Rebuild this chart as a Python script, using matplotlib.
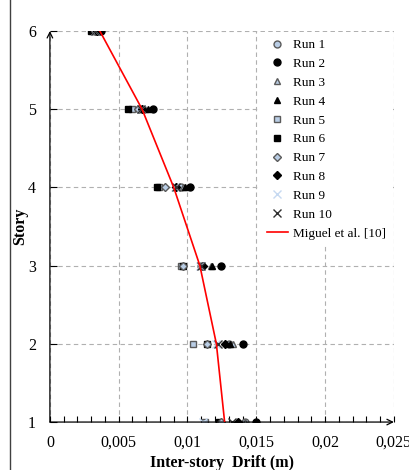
import matplotlib.pyplot as plt
from matplotlib.lines import Line2D
from matplotlib.ticker import FixedLocator, MultipleLocator, FuncFormatter

plt.rcParams['font.family'] = ['Liberation Serif', 'DejaVu Serif']

stories = [1, 2, 3, 4, 5, 6]

# inter-story drift (m) per run, story 1..6
run_drifts = {
    "Run 1": [0.0142, 0.0130, 0.0110, 0.0095, 0.0065, 0.0034],
    "Run 2": [0.0150, 0.0140, 0.0124, 0.0102, 0.0075, 0.0037],
    "Run 3": [0.0142, 0.0133, 0.0117, 0.0097, 0.0069, 0.0035],
    "Run 4": [0.0137, 0.0131, 0.0118, 0.0098, 0.0071, 0.0036],
    "Run 5": [0.0113, 0.0104, 0.0095, 0.0079, 0.0060, 0.0031],
    "Run 6": [0.0123, 0.0114, 0.0097, 0.0078, 0.0057, 0.0030],
    "Run 7": [0.0124, 0.0114, 0.0097, 0.0084, 0.0064, 0.0033],
    "Run 8": [0.0137, 0.0127, 0.0111, 0.0092, 0.0067, 0.0034],
    "Run 9": [0.0111, 0.0121, 0.0109, 0.0091, 0.0066, 0.0033],
    "Run 10": [0.0132, 0.0122, 0.0110, 0.0092, 0.0066, 0.0033],
}

miguel_drift = [0.0127, 0.0121, 0.0109, 0.0090, 0.0067, 0.00363]

LIGHT = '#b9cde5'
EDGE = '#5a5a5a'
styles = {
    "Run 1": dict(marker='o', mfc=LIGHT, mec=EDGE, ms=5),
    "Run 2": dict(marker='o', mfc='black', mec='black', ms=5),
    "Run 3": dict(marker='^', mfc=LIGHT, mec=EDGE, ms=5),
    "Run 4": dict(marker='^', mfc='black', mec='black', ms=5),
    "Run 5": dict(marker='s', mfc=LIGHT, mec=EDGE, ms=4.5),
    "Run 6": dict(marker='s', mfc='black', mec='black', ms=4.5),
    "Run 7": dict(marker='D', mfc=LIGHT, mec=EDGE, ms=4),
    "Run 8": dict(marker='D', mfc='black', mec='black', ms=4),
    "Run 9": dict(marker='x', color='#c6d9f1', ms=5.5, mew=1),
    "Run 10": dict(marker='x', color='#303030', ms=5.5, mew=1),
}

fig = plt.figure(figsize=(4.09, 4.70), dpi=100)
ax = fig.add_axes([0.122, 0.102, 0.841, 0.832])

for name, vals in run_drifts.items():
    st = styles[name]
    ax.plot(vals, stories, linestyle='none', label=name, zorder=3, **st)

ax.plot(miguel_drift, stories, color='red', lw=1.2, label='Miguel et al. [10]', zorder=4)

ax.set_xlim(0, 0.025)
ax.set_ylim(1, 6)
ax.xaxis.set_major_locator(FixedLocator([0, 0.005, 0.01, 0.015, 0.02, 0.025]))
ax.xaxis.set_minor_locator(MultipleLocator(0.001))
ax.yaxis.set_major_locator(FixedLocator(stories))
ax.xaxis.set_major_formatter(FuncFormatter(lambda v, p: '0' if v == 0 else f"{v:g}".replace('.', ',')))

ax.grid(True, which='major', color='#b0b0b0', linestyle=(0, (4, 3)), lw=0.8)
ax.tick_params(axis='x', which='both', direction='in', length=4, width=0.8, labelsize=11.5, pad=9)
ax.tick_params(axis='y', which='major', direction='in', length=5, width=0.8, labelsize=11.5, pad=10)

for s in ['top', 'right', 'left', 'bottom']:
    ax.spines[s].set_visible(False)
ax.annotate('', xy=(1.0, 0), xytext=(0, 0), xycoords='axes fraction',
            arrowprops=dict(arrowstyle='->', color='black', lw=0.9, shrinkA=0, shrinkB=0))
ax.annotate('', xy=(0, 1.0), xytext=(0, 0), xycoords='axes fraction',
            arrowprops=dict(arrowstyle='->', color='black', lw=0.9, shrinkA=0, shrinkB=0))

ax.set_xlabel('Inter-story  Drift (m)', fontsize=11.5, fontweight='bold', labelpad=3)
ax.set_ylabel('Story', fontsize=11.5, fontweight='bold', labelpad=0)

leg = ax.legend(loc='upper right', bbox_to_anchor=(1.0, 1.0), fontsize=9.5,
                frameon=True, fancybox=False, edgecolor='none', facecolor='white',
                framealpha=1, handlelength=1.6, handletextpad=0.4,
                labelspacing=0.5, borderaxespad=0.1, borderpad=0.5)

fig.add_artist(Line2D([10 / 409, 10 / 409], [0, 1], color='#404040', lw=1.0))

fig.savefig('out.png', dpi=100)
